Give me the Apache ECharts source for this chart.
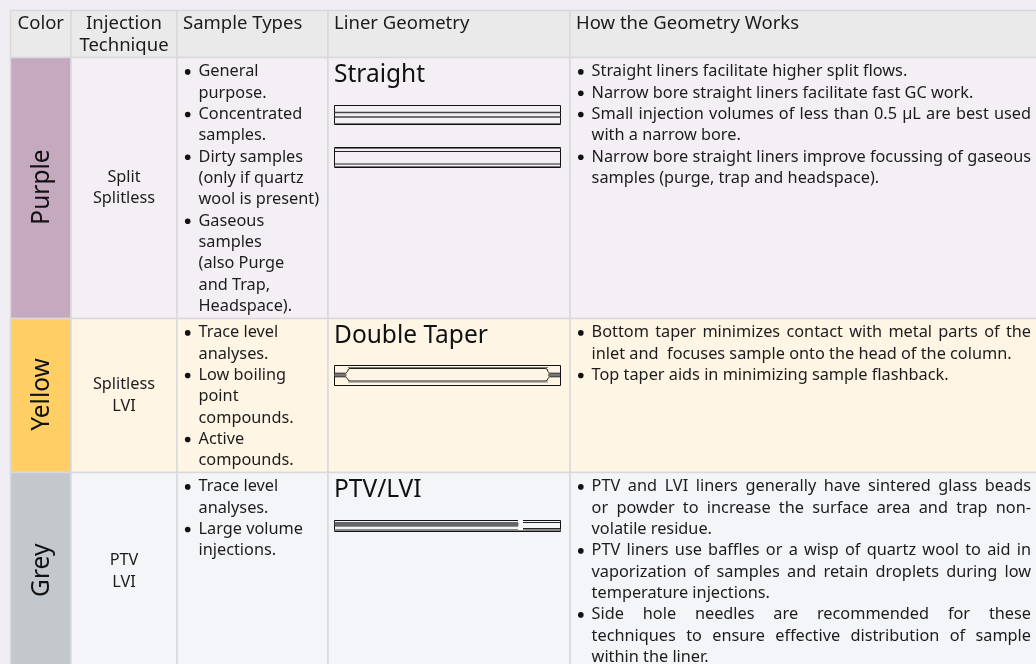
<!DOCTYPE html>
<html><head><meta charset="utf-8">
<style>html,body{margin:0;padding:0;background:#f1eef3}#c{width:1036px;height:664px}</style>
<script src="https://cdn.jsdelivr.net/npm/echarts@6/dist/echarts.min.js"></script>
</head><body><div id="c"></div>
<script>
// ---- table content ----
const headers = [["Color"],["Injection","Technique"],["Sample Types"],["Liner Geometry"],["How the Geometry Works"]];
const colorNames = ["Purple","Yellow","Grey"];
const techniques = [["Split","Splitless"],["Splitless","LVI"],["PTV","LVI"]];
const sampleTypes = [
 [["General","purpose."],["Concentrated","samples."],["Dirty samples","(only if quartz","wool is present)"],["Gaseous","samples","(also Purge","and Trap,","Headspace)."]],
 [["Trace level","analyses."],["Low boiling","point","compounds."],["Active","compounds."]],
 [["Trace level","analyses."],["Large volume","injections."]]
];
const geometryNames = ["Straight","Double Taper","PTV/LVI"];
const howItWorks = [
 [["Straight liners facilitate higher split flows."],["Narrow bore straight liners facilitate fast GC work."],["Small injection volumes of less than 0.5 µL are best used","with a narrow bore."],["Narrow bore straight liners improve focussing of gaseous","samples (purge, trap and headspace)."]],
 [["Bottom taper minimizes contact with metal parts of the","inlet and  focuses sample onto the head of the column."],["Top taper aids in minimizing sample flashback."]],
 [["PTV and LVI liners generally have sintered glass beads","or powder to increase the surface area and trap non-","volatile residue."],["PTV liners use baffles or a wisp of quartz wool to aid in","vaporization of samples and retain droplets during low","temperature injections."],["Side hole needles are recommended for these","techniques to ensure effective distribution of sample","within the liner."]]
];
// ---- palette ----
const swatchColors = ["#c4a9bf","#ffcf66","#c3c8cc"];
const rowFills = ["#f3eff4","#fff5e5","#f4f5f8"];
// ---- layout ----
const colEdges = [10.5,71,177,328,570,1040];
const rowEdges = [10.5,57.5,318.5,472.5,670];
const LH = 21.33, FONT = '"Noto Sans"', BODY = 16.3, HEAD = 18.5, BIG = 24.5;
const borderC = "#d9d9dc";

const cv = document.createElement('canvas').getContext('2d');
function tw(s,size){cv.font=size+'px "Noto Sans"';return cv.measureText(s).width;}
function txt(x,y,s,o){o=o||{};return {type:'text',x:x,y:y,rotation:o.rot||0,silent:true,
  style:{text:s,font:(o.size||BODY)+'px '+FONT,fill:o.fill||'#1c1c1c',align:o.align||'left',verticalAlign:'middle'}};}
function line(x1,y1,x2,y2,c,w){return {type:'line',silent:true,shape:{x1,y1,x2,y2},style:{stroke:c||'#111',lineWidth:w||1}};}
function fillRect(x,y,w,h,f){return {type:'rect',silent:true,shape:{x,y,width:w,height:h},style:{fill:f}};}

function bullets(blocks,px,py,right,justify){
  const out=[];let y=py;
  blocks.forEach(b=>{
    out.push({type:'circle',silent:true,shape:{cx:px,cy:y+0.2,r:2.8},style:{fill:'#111'}});
    b.forEach((l,i)=>{
      const tx=px+10.8;
      if(justify&&i<b.length-1){
        const ws=l.split(/\s+/),tot=ws.reduce((a,w)=>a+tw(w,BODY),0);
        const gap=(right-tx-tot)/(ws.length-1);let x=tx;
        ws.forEach(w=>{out.push(txt(x,y,w));x+=tw(w,BODY)+gap;});
      } else out.push(txt(tx,y,l));
      y+=LH;
    });
  });
  return out;
}
function liner(r){
  const x0=334.5,x1=560.5,o=[];
  const box=(y0,y1)=>({type:'rect',silent:true,shape:{x:x0,y:y0,width:x1-x0,height:y1-y0},style:{fill:'none',stroke:'#111',lineWidth:1}});
  const path=(pts)=>({type:'polyline',silent:true,shape:{points:pts},style:{stroke:'#222',fill:null,lineWidth:1}});
  if(r==0){
    o.push(box(105.5,124.5),line(x0,112.5,x1,112.5,'#444',1.4),line(x0,117,x1,117,'#444',1.4),line(x0,123.5,x1,123.5,'#777'));
    o.push(box(147.5,167.5),line(x0,148.5,x1,148.5,'#777'),line(x0,151.5,x1,151.5,'#222'),line(x0,164,x1,164,'#222'),line(x0,166.5,x1,166.5,'#777'));
  } else if(r==1){
    o.push(box(365.5,385.5),fillRect(x0,373.5,12,3,'#777'),fillRect(548,373.5,12,3,'#777'));
    o.push(path([[x0,373.2],[345.5,373.2],[347.5,371.5],[348.5,369],[350,368.5],[545,368.5],[547,369],[548,371.5],[549.5,373.2],[x1,373.2]]));
    o.push(path([[x0,376.8],[345.5,376.8],[347.5,378.5],[348.5,380.5],[350,381],[545,381],[547,380.5],[548,378.5],[549.5,376.8],[x1,376.8]]));
    o.push(line(348,367.5,548,367.5,'#777'),line(348,382,548,382,'#777'));
  } else {
    o.push(box(520.5,531.5));
    o.push(fillRect(x0,522,184,3.5,'#666'),line(x0,526,518,526,'#222'));
    o.push(fillRect(x0,529,226,2,'#888'));
    o.push(line(523,522.5,x1,522.5,'#222'),line(523,528.5,x1,528.5,'#222'));
    o.push(fillRect(518,520,5,3,'#fff'),fillRect(518,528,5,2,'#fff'));
  }
  return o;
}
// one custom-series item per table cell: [column, row]
const cellData=[];
for(let r=0;r<4;r++)for(let c=0;c<5;c++)cellData.push([c,r]);

function renderCell(params,api){
  const c=api.value(0),r=api.value(1);
  const p0=api.coord([colEdges[c],rowEdges[r]]),p1=api.coord([colEdges[c+1],rowEdges[r+1]]);
  const x=p0[0],y=p0[1],w=p1[0]-p0[0],h=p1[1]-p0[1];
  const kids=[];
  const fill=r==0?'#eaeaea':(c==0?swatchColors[r-1]:rowFills[r-1]);
  kids.push({type:'rect',silent:true,shape:{x,y,width:w,height:h},style:{fill,stroke:borderC,lineWidth:1.5}});
  if(r==0){
    const hd=headers[c];
    if(c==1) hd.forEach((s,i)=>kids.push(txt(x+w/2,24+i*21.3,s,{align:'center',size:HEAD})));
    else if(c==0) kids.push(txt(x+w/2,24,hd[0],{align:'center',size:HEAD}));
    else kids.push(txt(x+6,24,hd[0],{size:HEAD}));
  } else {
    const i=r-1,top=y+14.2;
    if(c==0) kids.push(txt(x+w/2+1,y+h/2-1,colorNames[i],{size:BIG,rot:Math.PI/2,align:'center',fill:'#111'}));
    if(c==1){const cy=y+h/2;techniques[i].forEach((s,k)=>kids.push(txt(x+w/2,cy+(k-.5)*LH,s,{align:'center'})));}
    if(c==2) kids.push(...bullets(sampleTypes[i],187.7,top,0,false));
    if(c==3){kids.push(txt(334,y+17.5,geometryNames[i],{size:BIG,fill:'#111'}));kids.push(...liner(i));}
    if(c==4) kids.push(...bullets(howItWorks[i],580.8,top,1031,true));
  }
  return {type:'group',children:kids};
}
const chart=echarts.init(document.getElementById('c'),null,{renderer:'canvas'});
chart.setOption({
  animation:false,
  backgroundColor:'#f1eef3',
  grid:{left:0,right:0,top:0,bottom:0},
  xAxis:{type:'value',min:0,max:1036,show:false},
  yAxis:{type:'value',min:0,max:664,inverse:true,show:false},
  tooltip:{show:false},
  series:[{type:'custom',coordinateSystem:'cartesian2d',clip:true,encode:{x:0,y:1},data:cellData,renderItem:renderCell,silent:true}]
});
</script></body></html>
